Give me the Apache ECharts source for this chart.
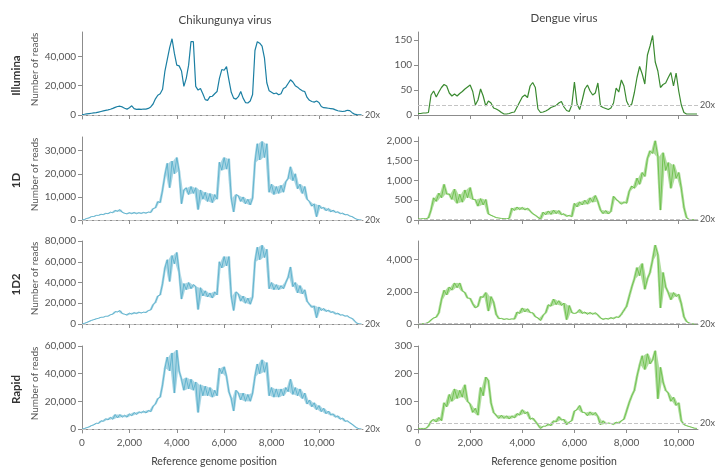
<!DOCTYPE html>
<html><head><meta charset="utf-8">
<script src="https://cdn.jsdelivr.net/npm/echarts@6/dist/echarts.min.js"></script>
<style>html,body{margin:0;padding:0;background:#fff}#c{width:725px;height:476px}</style>
</head><body><div id="c"></div>
<script>
// ---------- data ----------
const STEP = 100; // bp between successive readings
const chikLength = 11860;
const dengueLength = 10740;
const columnTitles = ['Chikungunya virus', 'Dengue virus'];
const rowLabels = ['Illumina', '1D', '1D2', 'Rapid'];
const yAxisTitle = 'Number of reads';
const xAxisTitle = 'Reference genome position';
const xTicks = [0, 2000, 4000, 6000, 8000, 10000];
const thresholdValue = 20;
const thresholdLabel = '20x';

const chikIllumina = [
 300,500,800,1000,1200,1400,1600,2000,2400,2800,
 3200,3500,3900,4500,5200,5800,6000,5500,4600,4000,
 5000,6300,4300,3800,4000,3900,4100,4000,4500,5500,
 7500,11000,13500,14500,17500,30000,38000,46000,52000,42000,
 34000,33500,30000,19500,25000,34000,50000,50000,19500,17000,
 18000,14500,10500,10000,12500,12800,14500,16000,25000,31000,
 30500,33000,24000,15500,11500,10800,12500,16000,11500,8500,
 8200,9500,14000,44000,50000,49000,47000,39000,22000,16500,
 15500,14500,15000,13800,14500,18000,19000,21500,24000,22500,
 20000,19000,17500,16500,16000,12000,10000,9200,8800,9500,
 8500,5800,5000,4800,4600,4400,4200,3500,2900,2600,
 2400,2600,3200,3000,1600,600,200,100,50];
const chik1D = [
 0,200,700,900,1500,1500,2000,2000,2500,2300,
 2900,2700,3400,3100,4200,3700,4500,3300,2900,2600,
 3200,2700,3300,2700,3200,2800,3300,2900,3500,3200,
 5000,5200,8000,7500,13000,19500,24500,14000,25500,20000,
 27000,21000,7000,13000,14000,11000,14500,11500,14000,4500,
 13000,9000,12000,8000,11500,7500,11000,9000,25000,21500,
 27000,22000,26500,9500,3500,11000,10500,8000,10000,7000,
 9000,6500,9500,25000,33000,26000,34000,27000,33000,12000,
 15500,11000,14500,11500,15000,12000,16500,18000,23000,17000,
 20000,13500,15500,11500,14500,9000,8000,6000,7000,1400,
 6500,5000,5500,4000,5000,3500,4300,3200,3600,2700,
 3000,2200,2400,1700,1500,800,300,100,50];
const chik1D2 = [
 0,600,1500,2500,3500,4200,5000,5500,6500,6500,
 7500,7500,9000,9500,12000,11500,13000,10000,9500,8500,
 10500,9500,11000,10000,11500,10500,11500,11000,13000,13500,
 18500,21000,27000,28000,39000,54000,62000,41000,66000,58000,
 69000,50000,24000,39000,33000,40000,34000,38000,36000,14000,
 35000,27000,32000,26000,30000,25000,31000,28000,60000,54000,
 65000,56000,65000,27000,13000,31000,29000,22000,27000,20000,
 25000,19000,26000,60000,74000,62000,76000,64000,72000,34000,
 40000,33000,38000,33000,37000,34000,40000,45000,55000,36000,
 40000,30000,37000,29000,33000,22000,19000,16000,17500,6000,
 16500,13000,15000,12000,13500,11000,12000,9500,10500,8500,
 9000,7500,8000,6000,5500,3000,800,200,50];
const chikRapid = [
 0,300,1000,1500,2500,3000,4200,4000,6000,5500,
 7500,6500,8500,7000,10500,8000,10500,8500,10000,8500,
 11000,9500,12000,10500,12500,11500,13000,11500,13500,12500,
 16500,18000,22000,23000,32000,44000,52000,42000,55000,26000,
 57000,42000,36000,28000,37000,29000,36000,28000,34000,12000,
 32000,24000,31000,24000,30000,23000,28000,24000,44000,40000,
 45000,38000,27000,22000,13000,28000,26000,21000,26000,20000,
 25000,20000,26000,38000,47000,40000,50000,41000,48000,24000,
 30000,23000,29000,23000,29000,24000,30000,27000,36000,25000,
 30000,24000,29000,22000,26000,18000,21000,16000,19000,14000,
 17000,12500,15000,11000,13000,10000,11000,8500,9500,7000,
 8000,5500,6000,4500,3500,2000,800,200,50];

const dengueIllumina = [
 3,3,4,4,5,40,48,36,46,55,
 61,58,44,38,42,38,43,47,52,56,
 60,47,20,30,52,38,18,28,24,14,
 12,9,5,2,2,3,5,6,16,26,
 36,40,35,58,65,55,12,5,6,8,
 11,15,17,19,24,27,16,9,7,20,
 66,22,11,30,52,60,48,40,44,64,
 18,15,13,11,14,24,54,46,70,58,
 28,17,22,45,75,97,82,62,120,138,
 159,106,88,55,61,64,75,85,58,84,
 48,20,5,2,2,2,2,2];
const dengue1D = [
 30,30,35,35,50,250,560,470,680,560,
 900,650,660,520,780,420,650,450,760,560,
 820,520,520,350,540,380,520,150,120,90,
 60,50,40,35,35,40,300,240,330,260,
 320,250,300,230,160,120,70,20,200,130,
 230,140,250,160,240,130,160,90,120,80,
 420,330,460,380,500,400,560,450,620,460,
 250,160,240,150,220,600,520,470,400,460,
 420,720,860,800,1060,900,1200,1100,1550,1750,
 1680,2000,1600,250,1700,1250,1450,800,1400,1050,
 1200,800,320,60,10,10,10,10];
const dengue1D2 = [
 20,20,25,40,100,250,380,420,700,1500,
 2100,1800,2300,2100,2550,2250,2550,2050,1950,1600,
 1600,1250,1000,1100,1700,1650,1950,800,1700,1350,
 600,330,350,280,330,280,320,300,750,650,
 1000,750,950,700,700,450,380,220,550,700,
 1200,1100,1550,1200,1450,1150,1300,270,1150,700,
 650,700,900,650,750,600,720,600,700,560,
 380,280,350,300,400,320,450,400,600,850,
 1100,1700,2300,2800,3500,3000,3750,2150,2800,3200,
 4000,4900,4300,1000,3200,2300,1950,1500,1950,1700,
 1850,1250,450,150,60,15,10,10];
const dengueRapid = [
 2,2,2,2,10,28,35,25,42,30,
 95,80,125,100,145,110,140,115,160,100,
 90,60,75,50,150,120,188,175,95,60,
 50,38,50,38,48,36,48,40,56,50,
 70,55,62,35,40,28,15,2,10,10,
 18,12,30,25,45,32,35,15,25,30,
 65,70,85,60,60,48,62,50,60,45,
 15,30,18,22,20,16,25,20,30,35,
 65,95,120,140,190,230,265,215,272,235,
 250,283,109,223,170,140,130,100,115,85,
 95,30,16,12,9,6,3,2];

const yTicks = [
 [0,20000,40000], [0,50,100,150],
 [0,10000,20000,30000], [0,500,1000,1500,2000],
 [0,20000,40000,60000,80000], [0,2000,4000],
 [0,20000,40000,60000], [0,100,200,300]];
const yMax = [56600,166,35900,2096,80000,5150,60000,300];

// ---------- layout / style ----------
const panels = [chikIllumina, dengueIllumina, chik1D, dengue1D, chik1D2, dengue1D2, chikRapid, dengueRapid];
const colors = ['#1b7fa3','#3a8a30','#5bb0cc','#6bbf4a','#5bb0cc','#6bbf4a','#5bb0cc','#6bbf4a'];
const noisyBand = [false,false,true,true,true,true,true,true];
const rowTops = [32, 137, 241, 346];
const plotH = 87, zeroOffset = 4;
const colLeft = [82, 418], colWidth = [281, 280];
const FONT = 'Lato, "Open Sans", sans-serif';
const axisColor = '#8c8c8c';
const fmt = v => String(v).replace(/\B(?=(\d{3})+(?!\d))/g, ',');

const grids = [], xAxes = [], yAxes = [], series = [];
panels.forEach((vals, i) => {
  const row = Math.floor(i / 2), col = i % 2;
  grids.push({left: colLeft[col], top: rowTops[row], width: colWidth[col], height: plotH});
  const bottom = row === 3;
  xAxes.push({
    type: 'value', gridIndex: i, min: 0, max: col === 0 ? chikLength : dengueLength,
    axisLine: {show: true, lineStyle: {color: axisColor, width: 1}},
    axisTick: {show: true, length: 4, customValues: xTicks, lineStyle: {color: axisColor}},
    axisLabel: {show: bottom, customValues: xTicks, formatter: fmt, color: '#555', fontSize: 10, fontFamily: FONT, margin: 5},
    splitLine: {show: false}
  });
  const mx = yMax[i];
  yAxes.push({
    type: 'value', gridIndex: i, max: mx, min: -mx * zeroOffset / (plotH - zeroOffset),
    axisLine: {show: true, onZero: false, lineStyle: {color: axisColor, width: 1}},
    axisTick: {show: true, length: 4, customValues: yTicks[i], lineStyle: {color: axisColor}},
    axisLabel: {customValues: yTicks[i], formatter: fmt, color: '#555', fontSize: 10, fontFamily: FONT, margin: 6},
    splitLine: {show: false}
  });
  if (noisyBand[i]) {
    // band swept by consecutive readings (read-noise envelope), drawn as polygons through the axes
    const env = [];
    for (let k = 0; k < vals.length - 1; k++) {
      env.push([(k + 0.5) * STEP, Math.min(vals[k], vals[k + 1]), Math.max(vals[k], vals[k + 1])]);
    }
    const segs = [];
    for (let k = 0; k < env.length - 1; k++) segs.push(env[k].concat(env[k + 1]));
    const col_ = colors[i];
    series.push({
      type: 'custom', xAxisIndex: i, yAxisIndex: i, silent: true, clip: true,
      encode: {x: [0, 3], y: [1, 2, 4, 5]},
      data: segs,
      renderItem: (params, api) => ({
        type: 'polygon',
        shape: {points: [
          api.coord([api.value(0), api.value(1)]),
          api.coord([api.value(3), api.value(4)]),
          api.coord([api.value(3), api.value(5)]),
          api.coord([api.value(0), api.value(2)])]},
        style: {fill: col_, opacity: 0.55}
      })
    });
  }
  series.push({
    type: 'line', xAxisIndex: i, yAxisIndex: i, symbol: 'none',
    data: vals.map((v, k) => [k * STEP, v]),
    lineStyle: {color: colors[i], width: noisyBand[i] ? 0.9 : 1.2},
    markLine: {
      silent: true, symbol: ['none', 'none'], animation: false,
      lineStyle: {type: 'dashed', color: '#c4c4c4', width: 1},
      label: {show: true, position: 'end', formatter: thresholdLabel, color: '#555', fontSize: 9, fontFamily: FONT, distance: 2},
      data: [{yAxis: thresholdValue}]
    }
  });
});

const graphic = [];
const titleX = [225, 564], titleY = [20, 18];
columnTitles.forEach((t, c) => graphic.push({type: 'text', x: titleX[c], y: titleY[c],
  style: {text: t, font: '11.5px ' + FONT, fill: '#444', align: 'center', verticalAlign: 'middle'}}));
rowLabels.forEach((t, r) => {
  const cy = rowTops[r] + plotH / 2;
  graphic.push({type: 'text', x: 16.5, y: cy, rotation: Math.PI / 2,
    style: {text: t, font: 'bold 11.5px ' + FONT, fill: '#333', align: 'center', verticalAlign: 'middle'}});
  graphic.push({type: 'text', x: 35, y: cy - 6, rotation: Math.PI / 2,
    style: {text: yAxisTitle, font: '10px ' + FONT, fill: '#555', align: 'center', verticalAlign: 'middle'}});
});
[214, 554].forEach(x => graphic.push({type: 'text', x: x, y: 462,
  style: {text: xAxisTitle, font: '10.5px ' + FONT, fill: '#444', align: 'center', verticalAlign: 'middle'}}));

const chart = echarts.init(document.getElementById('c'), null, {renderer: 'canvas'});
chart.setOption({animation: false, backgroundColor: '#fff', grid: grids, xAxis: xAxes, yAxis: yAxes, series: series, graphic: graphic});
</script></body></html>
